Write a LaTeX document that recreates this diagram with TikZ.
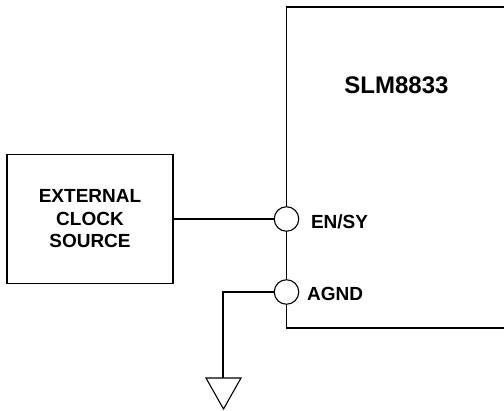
\documentclass[tikz,border=0pt]{standalone}
\usepackage{fontspec}
\setmainfont{Liberation Sans}
\usepackage{tikz}

\begin{document}
\begin{tikzpicture}[x=1pt,y=-1pt,line width=1.1pt,
  pin/.style={draw,circle,fill=white,minimum size=24.5pt,inner sep=0pt},
  lbl/.style={font=\fontsize{19}{22.5}\selectfont\bfseries,inner sep=0pt}]
\useasboundingbox (0,0) rectangle (504,411);
% clock source
\node[draw,minimum width=166pt,minimum height=129pt,align=center,lbl] (clk) at (90,219) {EXTERNAL\\CLOCK\\SOURCE};
% chip pins
\node[pin] (ensy) at (286.5,219) {};
\node[pin] (agnd) at (286.5,292) {};
\draw (506,7) -- (286.5,7) -- (ensy.north);
\draw (ensy.south) -- (agnd.north);
\draw (agnd.south) -- (286.5,328) -- (506,328);
\node[lbl,font=\fontsize{24}{28}\selectfont\bfseries] (name) at (396.5,85) {SLM8833};
\node[lbl,anchor=west] (ensylbl) at (310.5,221.5) {EN/SY};
\node[lbl,anchor=west] (agndlbl) at (306.5,293.5) {AGND};
% wires
\draw (clk.east) -- (ensy.west);
\coordinate (gnd) at (223,378);
\draw (agnd.west) -| (gnd);
\draw (206,378) -- (241,378) -- (223.5,409) -- cycle;
\end{tikzpicture}
\end{document}
